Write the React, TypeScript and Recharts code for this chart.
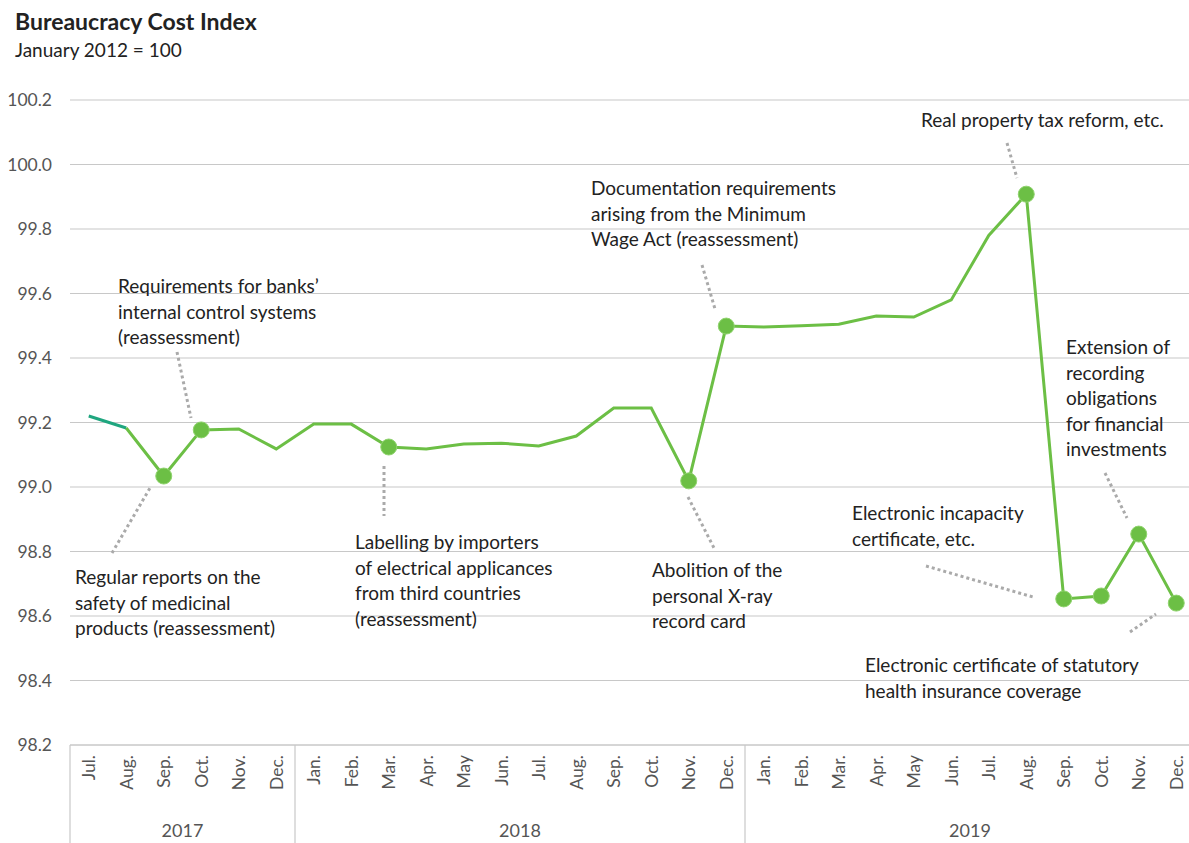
import React from 'react';
import { CartesianGrid, ComposedChart, Line, XAxis, YAxis } from 'recharts';

const periods = [
  '2017-07', '2017-08', '2017-09', '2017-10', '2017-11', '2017-12',
  '2018-01', '2018-02', '2018-03', '2018-04', '2018-05', '2018-06',
  '2018-07', '2018-08', '2018-09', '2018-10', '2018-11', '2018-12',
  '2019-01', '2019-02', '2019-03', '2019-04', '2019-05', '2019-06',
  '2019-07', '2019-08', '2019-09', '2019-10', '2019-11', '2019-12',
];
const monthLabels = [
  'Jul.', 'Aug.', 'Sep.', 'Oct.', 'Nov.', 'Dec.',
  'Jan.', 'Feb.', 'Mar.', 'Apr.', 'May', 'Jun.', 'Jul.', 'Aug.', 'Sep.', 'Oct.', 'Nov.', 'Dec.',
  'Jan.', 'Feb.', 'Mar.', 'Apr.', 'May', 'Jun.', 'Jul.', 'Aug.', 'Sep.', 'Oct.', 'Nov.', 'Dec.',
];
const indexValues = [
  99.22, 99.183, 99.034, 99.177, 99.18, 99.118,
  99.195, 99.195, 99.124, 99.118, 99.133, 99.136,
  99.127, 99.158, 99.245, 99.245, 99.019, 99.499,
  99.496, 99.5, 99.505, 99.53, 99.527, 99.58,
  99.78, 99.908, 98.653, 98.662, 98.854, 98.64,
];
// months with a new measure (drawn with a dot)
const markedPeriods = [
  '2017-09', '2017-10', '2018-03', '2018-11', '2018-12',
  '2019-08', '2019-09', '2019-10', '2019-11', '2019-12',
];
const yTicks = [98.2, 98.4, 98.6, 98.8, 99.0, 99.2, 99.4, 99.6, 99.8, 100.0, 100.2];
const yearStarts = ['2017-07', '2018-01', '2019-01'];
// year label sits right of this month (middle of the group)
const yearMids: Record<string, string> = { '2017-09': '2017', '2018-06': '2018', '2019-06': '2019' };

const GREEN = '#6cbf45';
const TEAL = '#1fa67f';
const FONT = 'Lato, "Noto Sans", sans-serif';

const data = periods.map((period, i) => ({
  period,
  teal: i <= 1 ? indexValues[i] : null,
  green: i >= 1 ? indexValues[i] : null,
}));

const annotations = [
  { x: 118, y: 293, lines: ['Requirements for banks’', 'internal control systems', '(reassessment)'], leader: [177, 352, 191, 418] },
  { x: 75, y: 584, lines: ['Regular reports on the', 'safety of medicinal', 'products (reassessment)'], leader: [112, 553, 150, 488] },
  { x: 355, y: 549, lines: ['Labelling by importers', 'of electrical applicances', 'from third countries', '(reassessment)'], leader: [384, 466, 384, 516] },
  { x: 591, y: 195, lines: ['Documentation requirements', 'arising from the Minimum', 'Wage Act (reassessment)'], leader: [702, 265, 715, 309] },
  { x: 652, y: 577, lines: ['Abolition of the', 'personal X-ray', 'record card'], leader: [688, 497, 714, 548] },
  { x: 921, y: 127, lines: ['Real property tax reform, etc.'], leader: [1007, 143, 1017, 178] },
  { x: 1066, y: 354, lines: ['Extension of', 'recording', 'obligations', 'for financial', 'investments'], leader: [1105, 473, 1127, 518] },
  { x: 852, y: 520, lines: ['Electronic incapacity', 'certificate, etc.'], leader: [926, 566, 1033, 597] },
  { x: 865, y: 672, lines: ['Electronic certificate of statutory', 'health insurance coverage'], leader: [1130, 632, 1156, 614] },
];

function MonthTick(props: any) {
  const { x, y, payload, index } = props;
  const half = payload.offset || 18.75;
  const period = payload.value as string;
  return (
    <g>
      <text
        transform={`translate(${x},${y + 10}) rotate(-90)`}
        dy="0.36em"
        textAnchor="end"
        fill="#555"
        fontSize={17.5}
        fontFamily={FONT}
      >
        {monthLabels[index]}
      </text>
      {yearStarts.includes(period) && (
        <line x1={x - half} x2={x - half} y1={y} y2={843} stroke="#c8c8c8" strokeWidth={1.2} />
      )}
      {yearMids[period] && (
        <text x={x + half} y={y + 92} textAnchor="middle" fill="#555" fontSize={18} fontFamily={FONT}>
          {yearMids[period]}
        </text>
      )}
    </g>
  );
}

function MarkedDot(props: any) {
  const { cx, cy, payload, index } = props;
  if (!markedPeriods.includes(payload.period) || cy == null) return <g key={`d${index}`} />;
  return <circle key={`d${index}`} cx={cx} cy={cy} r={8} fill={GREEN} stroke="#8fd36d" strokeWidth={1} />;
}

export default function App() {
  return (
    <div style={{ position: 'absolute', left: 0, top: 0, width: 1189, height: 843, overflow: 'hidden', background: '#fff' }}>
      <ComposedChart width={1195} height={843} data={data} margin={{ top: 100, right: 0, bottom: 0, left: 0 }}>
        <CartesianGrid vertical={false} stroke="#c8c8c8" strokeWidth={1.2} />
        <XAxis
          dataKey="period"
          scale="band"
          interval={0}
          height={98}
          axisLine={{ stroke: '#c8c8c8' }}
          tickLine={false}
          tickSize={0}
          tickMargin={0}
          tick={<MonthTick />}
        />
        <YAxis
          domain={[98.2, 100.2]}
          ticks={yTicks}
          width={70}
          axisLine={false}
          tickLine={false}
          tickSize={0}
          tickMargin={18}
          tickFormatter={(v: number) => v.toFixed(1)}
          tick={{ fill: '#555', fontSize: 17.5, fontFamily: FONT }}
        />
        <Line dataKey="teal" stroke={TEAL} strokeWidth={3} dot={false} isAnimationActive={false} connectNulls={false} />
        <Line dataKey="green" stroke={GREEN} strokeWidth={3} dot={MarkedDot} activeDot={false} isAnimationActive={false} />
      </ComposedChart>
      <svg width={1189} height={843} style={{ position: 'absolute', left: 0, top: 0, pointerEvents: 'none' }}>
        <text x={15} y={30} fontSize={23} fontWeight="bold" fill="#222" fontFamily={FONT}>
          Bureaucracy Cost Index
        </text>
        <text x={15} y={57} fontSize={19} fill="#222" fontFamily={FONT}>
          January 2012 = 100
        </text>
        {annotations.map((a, i) => (
          <g key={i}>
            <line
              x1={a.leader[0]} y1={a.leader[1]} x2={a.leader[2]} y2={a.leader[3]}
              stroke="#aaa" strokeWidth={3} strokeDasharray="3 3"
            />
            {a.lines.map((l, j) => (
              <text key={j} x={a.x} y={a.y + j * 25.5} fontSize={19} fill="#222" fontFamily={FONT}>
                {l}
              </text>
            ))}
          </g>
        ))}
      </svg>
    </div>
  );
}
